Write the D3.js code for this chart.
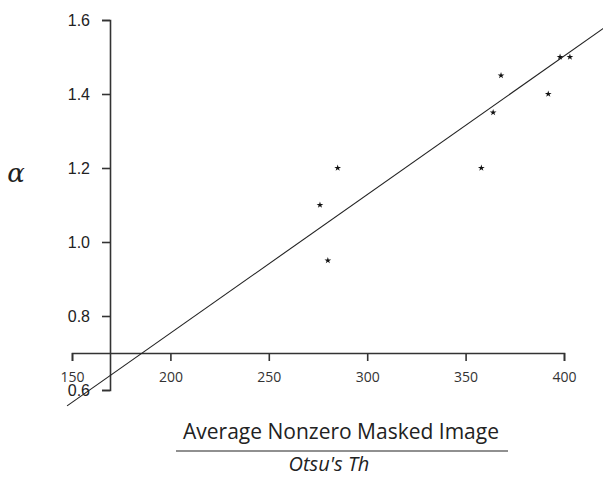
<!DOCTYPE html>
<html>
<head>
<meta charset="utf-8">
<script src="https://cdn.jsdelivr.net/npm/d3@7"></script>
<style>
  body { margin: 0; background: #fff; }
  svg { display: block; }
</style>
</head>
<body>
<svg id="chart" width="603" height="478"></svg>
<script>
// values
const thresholds = [276, 280, 285, 358, 364, 368, 392, 398, 403];
const alphas     = [1.10, 0.95, 1.20, 1.20, 1.35, 1.45, 1.40, 1.50, 1.50];
const xTicks = [150, 200, 250, 300, 350, 400];
const yTicks = [0.6, 0.8, 1.0, 1.2, 1.4, 1.6];
// fitted line: alpha = slope * x + intercept
const fitSlope = 0.003745;
const fitIntercept = 0.0046;
const fitRange = [147.5, 425];

const svg = d3.select("#chart");

const x = d3.scaleLinear().domain([150, 400]).range([72, 564]);
const y = d3.scaleLinear().domain([0.6, 1.6]).range([390, 20]);

const axisColor = "#333";

// x axis sits at alpha = 0.7
const xAxis = svg.append("g")
    .attr("transform", `translate(0,${y(0.7)})`)
    .call(d3.axisBottom(x).tickValues(xTicks).tickSize(8).tickPadding(11)
        .tickFormat(d3.format("d")));
xAxis.selectAll("path, line").attr("stroke", axisColor).attr("stroke-width", 1.6);
xAxis.selectAll("text")
    .attr("fill", "#333")
    .style("font-family", "'Open Sans', sans-serif")
    .style("font-size", "14px");

// y axis sits at x = 110px
const yAxis = svg.append("g")
    .attr("transform", "translate(110,0)")
    .call(d3.axisLeft(y).tickValues(yTicks).tickSize(8).tickPadding(12)
        .tickFormat(d3.format(".1f")));
yAxis.selectAll("path, line").attr("stroke", axisColor).attr("stroke-width", 1.6);
yAxis.selectAll("text")
    .attr("fill", "#222")
    .style("font-family", "'Liberation Sans', Arial, sans-serif")
    .style("font-size", "16px");

// fitted line
svg.append("line")
    .attr("x1", x(fitRange[0]))
    .attr("y1", y(fitSlope * fitRange[0] + fitIntercept))
    .attr("x2", x(fitRange[1]))
    .attr("y2", y(fitSlope * fitRange[1] + fitIntercept))
    .attr("stroke", "#222")
    .attr("stroke-width", 1.1);

// star markers
const star = d3.symbol().type(d3.symbolStar).size(14);
svg.selectAll("path.pt")
    .data(thresholds.map((t, i) => [t, alphas[i]]))
    .enter().append("path")
    .attr("class", "pt")
    .attr("d", star)
    .attr("transform", d => `translate(${x(d[0])},${y(d[1])})`)
    .attr("fill", "#111");

// y label
svg.append("text")
    .attr("x", 16)
    .attr("y", 182)
    .attr("text-anchor", "middle")
    .style("font-family", "'DejaVu Serif', serif")
    .style("font-style", "italic")
    .style("font-size", "26px")
    .attr("fill", "#222")
    .text("α");

// x label as a fraction
svg.append("text")
    .attr("x", 341)
    .attr("y", 439)
    .attr("text-anchor", "middle")
    .style("font-family", "'Open Sans', sans-serif")
    .style("font-size", "21px")
    .attr("fill", "#222")
    .text("Average Nonzero Masked Image");
svg.append("line")
    .attr("x1", 176).attr("x2", 508)
    .attr("y1", 451).attr("y2", 451)
    .attr("stroke", "#222").attr("stroke-width", 1.2);
svg.append("text")
    .attr("x", 329)
    .attr("y", 471)
    .attr("text-anchor", "middle")
    .style("font-family", "'Open Sans', sans-serif")
    .style("font-style", "italic")
    .style("font-size", "20px")
    .attr("fill", "#222")
    .text("Otsu's Th");
</script>
</body>
</html>
